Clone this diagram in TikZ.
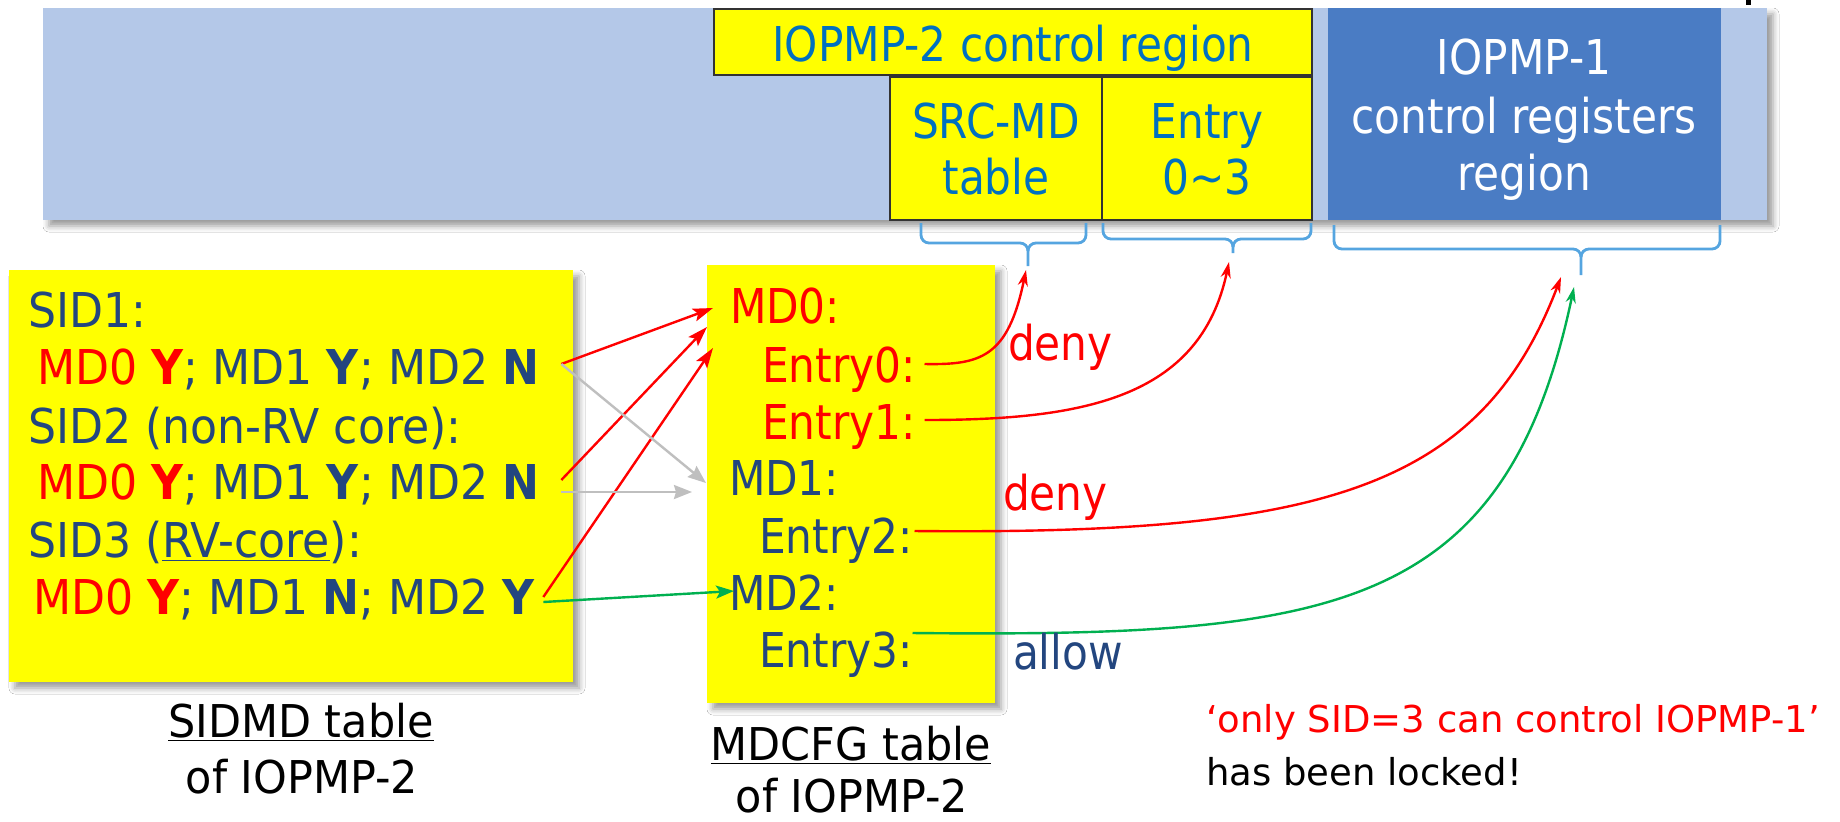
\documentclass[tikz,border=0pt]{standalone}
\usepackage{fontspec}
\setmainfont{DejaVu Sans}[FakeStretch=0.88]
\newfontfamily\sidfont{DejaVu Sans}[FakeStretch=0.92]
\newfontfamily\capfont{DejaVu Sans}[FakeStretch=0.95]
\newfontfamily\notefont{DejaVu Sans}[FakeStretch=1.0]
\usetikzlibrary{arrows.meta,calc,shadows.blur}

\definecolor{bandblue}{HTML}{B4C8E8}
\definecolor{regblue}{HTML}{4A7CC4}
\definecolor{navy}{HTML}{23467F}
\definecolor{ctrlblue}{HTML}{0070C0}
\definecolor{bracecol}{HTML}{55A5E0}
\definecolor{okgreen}{HTML}{00B050}
\definecolor{lightgray}{HTML}{BFBFBF}
\definecolor{hiyellow}{HTML}{FFFF00}

\newcommand\mainsz{\fontsize{24pt}{28.75pt}\selectfont}
\newcommand\sidsz{\sidfont\fontsize{24pt}{28.75pt}\selectfont}
\newcommand\capsz{\capfont\fontsize{22.6pt}{27pt}\selectfont}
\newcommand\notesz{\notefont\fontsize{18.5pt}{22pt}\selectfont}

\tikzset{
  softshadow/.style={blur shadow={shadow xshift=3pt, shadow yshift=-3pt,
      shadow blur radius=3pt, shadow opacity=40}},
  panel/.style={inner sep=0pt, outer sep=0pt},
  cell/.style={panel, fill=hiyellow, draw=black!80, line width=0.7pt},
  mtext/.style={inner sep=0pt, outer sep=0pt, anchor=base west, font=\mainsz, text=navy},
  stext/.style={mtext, font=\sidsz},
  ctext/.style={inner sep=0pt, outer sep=0pt, anchor=base, font=\mainsz},
  captext/.style={inner sep=0pt, outer sep=0pt, anchor=base, font=\capsz, text=black},
  notetext/.style={inner sep=0pt, outer sep=0pt, anchor=base west, font=\notesz, text=black},
  bracestyle/.style={draw=bracecol, line width=1.4pt},
  redarrow/.style={draw=red, line width=1.2pt,
      -{Stealth[length=10pt, width=6.5pt, inset=2pt]}},
  grayarrow/.style={draw=lightgray, line width=1.2pt,
      -{Stealth[length=9pt, width=7pt, inset=1pt]}},
  greenarrow/.style={draw=okgreen, line width=1.2pt,
      -{Stealth[length=9pt, width=6.5pt, inset=2pt]}},
  bendred/.style={draw=red, line width=1.2pt,
      -{Stealth[length=8pt, width=5pt, inset=2.5pt]}},
  bendgreen/.style={draw=okgreen, line width=1.2pt,
      -{Stealth[length=8pt, width=5pt, inset=2.5pt]}},
}

\begin{document}
\begin{tikzpicture}[x=0.5pt, y=-0.5pt]
  % canvas
  \fill[white] (0,0) rectangle (1840,821);
  \useasboundingbox (0,0) rectangle (1840,821);

  % ---------------- memory map band ----------------
  \node[panel, fill=bandblue, softshadow, minimum width=862pt, minimum height=106pt]
    (band) at (905,114) {};
  \fill[black] (1746,0) rectangle (1751,5);

  \node[cell, minimum width=299pt, minimum height=33pt] (ctrl2) at (1013,42) {};
  \node[cell, minimum width=106pt, minimum height=71.5pt] (srcmd) at (996,148.5) {};
  \node[cell, minimum width=105pt, minimum height=71.5pt] (entries) at (1207,148.5) {};
  \node[panel, fill=regblue, minimum width=196.5pt, minimum height=106pt]
    (iopmp1) at (1524.5,114) {};

  \node[ctext, text=ctrlblue] (ctrl2t) at (1013,61) {IOPMP-2 control region};
  \node[ctext, text=ctrlblue] (srcmdA) at (996,138) {SRC-MD};
  \node[ctext, text=ctrlblue] (srcmdB) at (996,194) {table};
  \node[ctext, text=ctrlblue] (entA) at (1207,138) {Entry};
  \node[ctext, text=ctrlblue] (entB) at (1207,194) {0\textasciitilde3};
  \node[ctext, text=white] (regA) at (1524,74) {IOPMP-1};
  \node[ctext, text=white] (regB) at (1524,133) {control registers};
  \node[ctext, text=white] (regC) at (1524,190) {region};

  % ---------------- braces under the regions ----------------
  \coordinate (b1) at (1028,266);
  \coordinate (b2) at (1233,253);
  \coordinate (b3) at (1581,275);
  \draw[bracestyle] (921,223) [rounded corners=4pt]-- (921,243) [sharp corners]-- (1020,243)
    to[out=0,in=90] (1028,251) -- (b1);
  \draw[bracestyle] (1086,223) [rounded corners=4pt]-- (1086,243) [sharp corners]-- (1036,243)
    to[out=180,in=90] (1028,251);
  \draw[bracestyle] (1103,223) [rounded corners=4pt]-- (1103,239) [sharp corners]-- (1225,239)
    to[out=0,in=90] (1233,247) -- (b2);
  \draw[bracestyle] (1311,223) [rounded corners=4pt]-- (1311,239) [sharp corners]-- (1241,239)
    to[out=180,in=90] (1233,247);
  \draw[bracestyle] (1334,225) [rounded corners=4pt]-- (1334,249) [sharp corners]-- (1573,249)
    to[out=0,in=90] (1581,257) -- (b3);
  \draw[bracestyle] (1720,225) [rounded corners=4pt]-- (1720,249) [sharp corners]-- (1589,249)
    to[out=180,in=90] (1581,257);

  % ---------------- SIDMD table ----------------
  \node[panel, fill=hiyellow, softshadow, minimum width=282pt, minimum height=206pt]
    (sidbox) at (291,476) {};
  \node[stext] (sid1) at (28,327) {SID1:};
  \node[stext] (sidA) at (37,384)
    {\textcolor{red}{MD0 \textbf{Y}}; MD1 \textbf{Y}; MD2 \textbf{N}};
  \node[stext] (sid2) at (28,443) {SID2 (non-RV core):};
  \node[stext] (sidB) at (37,499)
    {\textcolor{red}{MD0 \textbf{Y}}; MD1 \textbf{Y}; MD2 \textbf{N}};
  \node[stext] (sid3) at (28,557) {SID3 (\underline{RV-core}):};
  \node[stext] (sidC) at (33,614)
    {\textcolor{red}{MD0 \textbf{Y}}; MD1 \textbf{N}; MD2 \textbf{Y}};

  % ---------------- MDCFG table ----------------
  \node[panel, fill=hiyellow, softshadow, minimum width=144pt, minimum height=219pt]
    (mdbox) at (851,484) {};
  \node[mtext, text=red] (md0) at (730,323) {MD0:};
  \node[mtext, text=red] (en0) at (762,382) {Entry0:};
  \node[mtext, text=red] (en1) at (762,439) {Entry1:};
  \node[mtext] (md1) at (729,495) {MD1:};
  \node[mtext] (en2) at (759,553) {Entry2:};
  \node[mtext] (md2) at (729,610) {MD2:};
  \node[mtext] (en3) at (759,667) {Entry3:};

  % ---------------- SID -> MD links ----------------
  \draw[redarrow] ($(sidA.base east)+(22,-20)$) -- ($(md0.base west)+(-17,-15)$);
  \draw[redarrow] ($(sidB.base east)+(22,-19)$) -- ($(md0.base west)+(-23,4)$);
  \draw[redarrow] ($(sidC.base east)+(8,-17)$) -- ($(md0.base west)+(-17,25)$);
  \draw[grayarrow] ($(sidA.base east)+(22,-20)$) -- ($(md1.base west)+(-23,-12)$);
  \draw[grayarrow] ($(sidB.base east)+(22,-7)$) -- ($(md1.base west)+(-37,-3)$);
  \draw[greenarrow] ($(sidC.base east)+(8,-12)$) -- ($(md2.base west)+(5,-19)$);

  % ---------------- entry -> region checks ----------------
  \coordinate (e0) at ($(en0.base east)+(9,-18)$);
  \coordinate (e1) at ($(en1.base east)+(9,-19)$);
  \coordinate (e2) at ($(en2.base east)+(2,-22)$);
  \coordinate (e3) at ($(en3.base east)+(0,-34)$);
  \draw[bendred] (e0) .. controls (980,365) and (1008,358) .. ($(b1)+(-2,4)$);
  \draw[bendred] (e1) .. controls (1080,420) and (1200,400) .. ($(b2)+(-4,9)$);
  \draw[bendred] (e2) .. controls (1320,535) and (1480,490) .. ($(b3)+(-20,2)$);
  \draw[bendgreen] (e3) .. controls (1330,637) and (1505,615) .. ($(b3)+(-7,12)$);

  \node[mtext, text=red] (deny1) at (1008,360) {deny};
  \node[mtext, text=red] (deny2) at (1003,510) {deny};
  \node[mtext] (allow) at (1013,669) {allow};

  % ---------------- captions ----------------
  \node[captext] (capA1) at (301,737) {\underline{SIDMD table}};
  \node[captext] (capA2) at (302,793) {of IOPMP-2};
  \node[captext] (capB1) at (851,760) {\underline{MDCFG table}};
  \node[captext] (capB2) at (852,812) {of IOPMP-2};
  \node[notetext, text=red] (lock1) at (1206,732)
    {‘only SID=3 can control IOPMP-1’};
  \node[notetext] (lock2) at (1206,785) {has been locked!};
\end{tikzpicture}
\end{document}
